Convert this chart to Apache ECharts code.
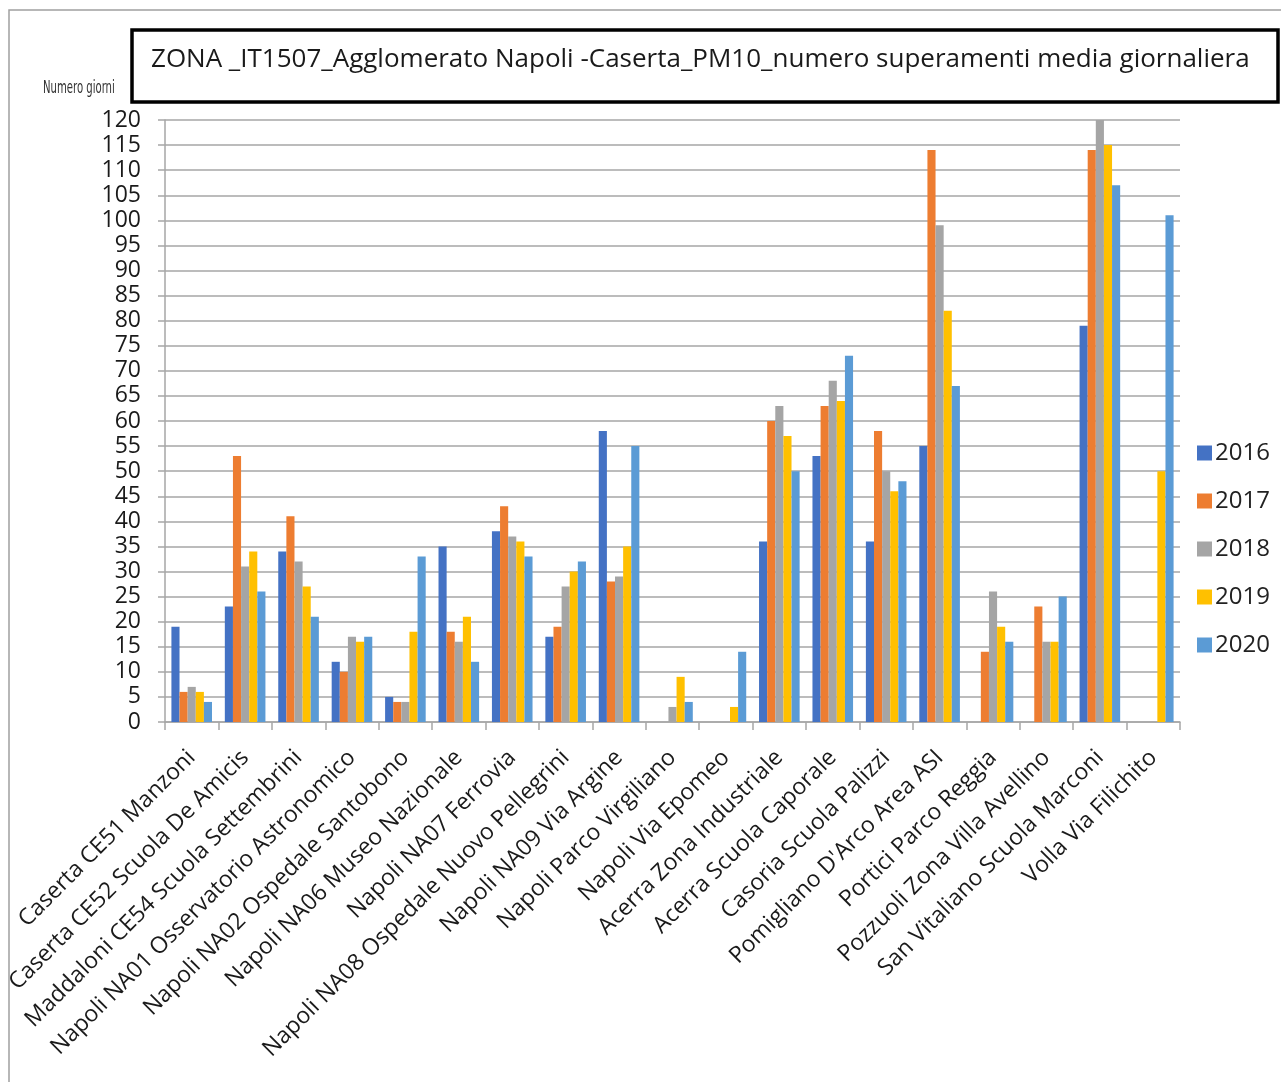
<!DOCTYPE html>
<html>
<head>
<meta charset="utf-8">
<script src="https://cdn.jsdelivr.net/npm/echarts@6/dist/echarts.min.js"></script>
<style>
  html, body { margin: 0; padding: 0; background: #fff; }
  #chart { width: 1281px; height: 1082px; }
</style>
</head>
<body>
<div id="chart"></div>
<script>
// Monitoring stations of the Napoli–Caserta agglomeration
const stations = [
  'Caserta CE51 Manzoni',
  'Caserta CE52 Scuola De Amicis',
  'Maddaloni CE54 Scuola Settembrini',
  'Napoli NA01 Osservatorio Astronomico',
  'Napoli NA02 Ospedale Santobono',
  'Napoli NA06 Museo Nazionale',
  'Napoli NA07 Ferrovia',
  'Napoli NA08 Ospedale Nuovo Pellegrini',
  'Napoli NA09 Via Argine',
  'Napoli Parco Virgiliano',
  'Napoli Via Epomeo',
  'Acerra Zona Industriale',
  'Acerra Scuola Caporale',
  'Casoria Scuola Palizzi',
  "Pomigliano D'Arco Area ASI",
  'Portici Parco Reggia',
  'Pozzuoli Zona Villa Avellino',
  'San Vitaliano Scuola Marconi',
  'Volla Via Filichito'
];

// Days exceeding the PM10 daily limit, per year (null = no data)
const years = ['2016', '2017', '2018', '2019', '2020'];
const v2016 = [19, 23, 34, 12, 5, 35, 38, 17, 58, null, null, 36, 53, 36, 55, null, null, 79, null];
const v2017 = [6, 53, 41, 10, 4, 18, 43, 19, 28, null, null, 60, 63, 58, 114, 14, 23, 114, null];
const v2018 = [7, 31, 32, 17, 4, 16, 37, 27, 29, 3, null, 63, 68, 50, 99, 26, 16, 120, null];
const v2019 = [6, 34, 27, 16, 18, 21, 36, 30, 35, 9, 3, 57, 64, 46, 82, 19, 16, 115, 50];
const v2020 = [4, 26, 21, 17, 33, 12, 33, 32, 55, 4, 14, 50, 73, 48, 67, 16, 25, 107, 101];
const seriesValues = [v2016, v2017, v2018, v2019, v2020];

const palette = ['#4472C4', '#ED7D31', '#A5A5A5', '#FFC000', '#5B9BD5'];
const FONT = '"Open Sans", Lato, sans-serif';

const chart = echarts.init(document.getElementById('chart'));

chart.setOption({
  backgroundColor: '#fff',
  animation: false,
  color: palette,
  graphic: [
    {
      type: 'rect',
      shape: { x: 9, y: 10, width: 1290, height: 1090 },
      style: { fill: 'none', stroke: '#a0a0a0', lineWidth: 1.5 },
      silent: true
    },
    {
      type: 'rect',
      shape: { x: 132, y: 30, width: 1146, height: 72 },
      style: { fill: '#fff', stroke: '#000', lineWidth: 3.5 },
      silent: true
    },
    {
      type: 'text',
      left: 151,
      top: 47,
      style: {
        text: 'ZONA _IT1507_Agglomerato Napoli -Caserta_PM10_numero superamenti media giornaliera',
        font: '26px ' + FONT,
        fill: '#1a1a1a'
      },
      silent: true
    },
    {
      type: 'text',
      x: 43,
      y: 80,
      scaleX: 0.66,
      style: {
        text: 'Numero giorni',
        font: '17px "Liberation Sans Narrow", "DejaVu Sans Condensed", sans-serif',
        fill: '#333'
      },
      silent: true
    }
  ],
  legend: {
    orient: 'vertical',
    left: 1192,
    top: 436,
    itemWidth: 15,
    itemHeight: 15,
    itemGap: 24,
    icon: 'rect',
    textStyle: { fontSize: 24, fontFamily: FONT, color: '#222', padding: [0, 0, 0, -2] },
    data: years
  },
  grid: {
    left: 165,
    right: 101,
    top: 120,
    bottom: 360,
    containLabel: false
  },
  xAxis: {
    type: 'category',
    data: stations,
    axisLine: { lineStyle: { color: '#a6a6a6', width: 1.5 } },
    axisTick: { show: true, length: 8, lineStyle: { color: '#a6a6a6', width: 1.5 } },
    axisLabel: {
      interval: 0,
      rotate: 45,
      margin: 32,
      fontSize: 23,
      fontFamily: FONT,
      color: '#1a1a1a'
    },
    splitLine: { show: false }
  },
  yAxis: {
    type: 'value',
    min: 0,
    max: 120,
    interval: 5,
    axisLine: { show: true, lineStyle: { color: '#a6a6a6', width: 1.5 } },
    axisTick: { show: true, length: 7, lineStyle: { color: '#a6a6a6', width: 1.5 } },
    axisLabel: { fontSize: 23, fontFamily: FONT, color: '#1a1a1a', margin: 24 },
    splitLine: { lineStyle: { color: '#a6a6a6', width: 1.5 } }
  },
  series: years.map((y, i) => ({
    name: y,
    type: 'bar',
    data: seriesValues[i],
    barGap: '0%',
    barCategoryGap: '24%',
    itemStyle: { color: palette[i] }
  }))
});
</script>
</body>
</html>
